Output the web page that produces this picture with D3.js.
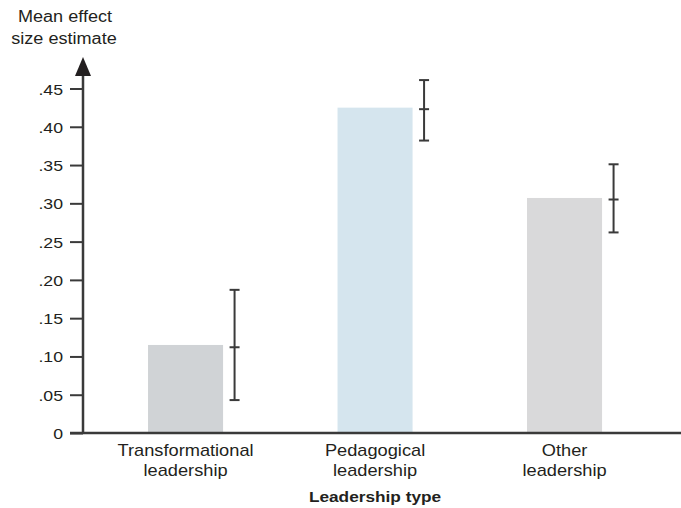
<!DOCTYPE html>
<html><head><meta charset="utf-8">
<script src="https://cdn.jsdelivr.net/npm/d3@7"></script>
<style>body{margin:0;background:#fff}svg{display:block}text{font-family:"Liberation Sans",Arial,sans-serif;fill:#231f20}</style>
</head><body><svg id="c" width="681" height="508"></svg>
<script>
const categories = [["Transformational","leadership"],["Pedagogical","leadership"],["Other","leadership"]];
const keys = ["Transformational","Pedagogical","Other"];
const means = [0.115, 0.425, 0.307];
const ciCenter = [0.112, 0.423, 0.305];
const ciLow = [0.043, 0.382, 0.262];
const ciHigh = [0.187, 0.461, 0.351];
const barColors = ["#d0d3d6","#d5e5ee","#d9d9da"];
const tickValues = [0,0.05,0.10,0.15,0.20,0.25,0.30,0.35,0.40,0.45];
const tickLabels = ["0",".05",".10",".15",".20",".25",".30",".35",".40",".45"];

const svg = d3.select("#c");
const x = d3.scaleBand().domain(keys).range([90.8,659.3]).paddingInner(0.604).paddingOuter(0.302);
const y = d3.scaleLinear().domain([0,0.45]).range([433,88.5]);
const axX = 83, dark = "#3a3a3a";

function stext(g, tx, ty, str, size, sx, anchor, weight){
  g.append("text").attr("transform",`translate(${tx},${ty}) scale(${sx},1)`)
   .attr("text-anchor",anchor).attr("font-size",size).attr("font-weight",weight||"normal").text(str);
}

// bars
svg.selectAll("rect.bar").data(keys).enter().append("rect")
  .attr("x",d=>x(d)).attr("width",x.bandwidth())
  .attr("y",(d,i)=>y(means[i])).attr("height",(d,i)=>y(0)-y(means[i]))
  .attr("fill",(d,i)=>barColors[i]);

// error bars
keys.forEach((k,i)=>{
  const ex = x(k)+x.bandwidth()+11.5;
  const g = svg.append("g").attr("stroke",dark).attr("stroke-width",2);
  g.append("line").attr("x1",ex).attr("x2",ex).attr("y1",y(ciHigh[i])).attr("y2",y(ciLow[i]));
  [ciHigh[i],ciCenter[i],ciLow[i]].forEach(v=>{
    g.append("line").attr("x1",ex-5).attr("x2",ex+5).attr("y1",y(v)).attr("y2",y(v));
  });
});

// y axis
const yAxis = d3.axisLeft(y).tickValues(tickValues).tickFormat((d,i)=>tickLabels[i]).tickSize(13).tickSizeOuter(0);
const gy = svg.append("g").attr("transform",`translate(${axX},0)`).call(yAxis);
gy.select(".domain").remove();
gy.selectAll(".tick line").attr("stroke",dark).attr("stroke-width",2);
gy.selectAll(".tick text").each(function(d,i){
  const t = d3.select(this);
  t.attr("x",null).attr("dy",null).attr("font-size",15).attr("fill","#231f20")
   .attr("font-family","Liberation Sans, Arial, sans-serif")
   .attr("text-anchor","end").attr("transform",`translate(-20,5.5) scale(1.18,1)`);
});
svg.append("line").attr("x1",axX).attr("x2",axX).attr("y1",y(0)+1).attr("y2",72).attr("stroke",dark).attr("stroke-width",2.5);
svg.append("path").attr("d",`M${axX},57 L${axX-8},76 L${axX+8},76 Z`).attr("fill","#231f20");

// x axis line
svg.append("line").attr("x1",70).attr("x2",681).attr("y1",y(0)).attr("y2",y(0)).attr("stroke",dark).attr("stroke-width",2.5);

// category labels
keys.forEach((k,i)=>{
  const cx = x(k)+x.bandwidth()/2;
  stext(svg,cx,456,categories[i][0],16,1.14,"middle");
  stext(svg,cx,476,categories[i][1],16,1.14,"middle");
});

// axis titles
stext(svg,375,502,"Leadership type",15,1.15,"middle","bold");
stext(svg,65,22,"Mean effect",16,1.13,"middle");
stext(svg,64,44,"size estimate",16,1.13,"middle");
</script></body></html>
